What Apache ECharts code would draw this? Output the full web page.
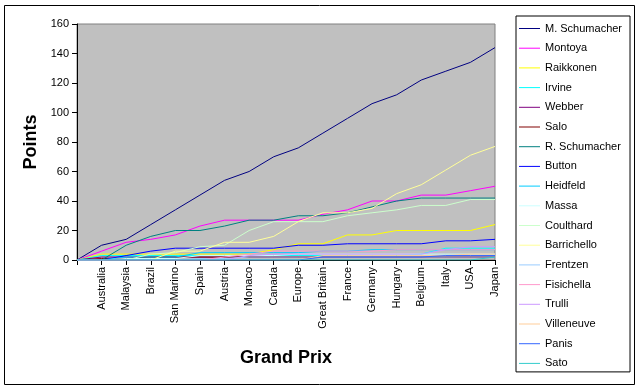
<!DOCTYPE html>
<html>
<head>
<meta charset="utf-8">
<script src="https://cdn.jsdelivr.net/npm/echarts@6/dist/echarts.min.js"></script>
<style>html,body{margin:0;padding:0;background:#fff;}#c{width:640px;height:390px;}</style>
</head>
<body>
<div id="c"></div>
<script>
var categories = ['', 'Australia', 'Malaysia', 'Brazil', 'San Marino', 'Spain', 'Austria', 'Monaco', 'Canada', 'Europe', 'Great Britain', 'France', 'Germany', 'Hungary', 'Belgium', 'Italy', 'USA', 'Japan'];
var yTicks = [0, 20, 40, 60, 80, 100, 120, 140, 160];

var drivers = ['M. Schumacher', 'Montoya', 'Raikkonen', 'Irvine', 'Webber', 'Salo', 'R. Schumacher', 'Button', 'Heidfeld', 'Massa', 'Coulthard', 'Barrichello', 'Frentzen', 'Fisichella', 'Trulli', 'Villeneuve', 'Panis', 'Sato'];

var mSchumacher = [0, 10, 14, 24, 34, 44, 54, 60, 70, 76, 86, 96, 106, 112, 122, 128, 134, 144];
var montoya     = [0, 6, 12, 14, 17, 23, 27, 27, 27, 27, 31, 34, 40, 40, 44, 44, 47, 50];
var raikkonen   = [0, 4, 4, 4, 4, 4, 4, 4, 7, 11, 11, 17, 17, 20, 20, 20, 20, 24];
var irvine      = [0, 3, 3, 3, 3, 3, 3, 3, 3, 3, 3, 3, 3, 3, 4, 8, 8, 8];
var webber      = [0, 2, 2, 2, 2, 2, 2, 2, 2, 2, 2, 2, 2, 2, 2, 2, 2, 2];
var salo        = [0, 1, 1, 2, 2, 2, 2, 2, 2, 2, 2, 2, 2, 2, 2, 2, 2, 2];
var rSchumacher = [0, 0, 10, 16, 20, 20, 23, 27, 27, 30, 30, 32, 36, 40, 42, 42, 42, 42];
var button      = [0, 0, 3, 6, 8, 8, 8, 8, 8, 10, 10, 11, 11, 11, 11, 13, 13, 14];
var heidfeld    = [0, 0, 2, 2, 2, 5, 5, 5, 5, 5, 6, 6, 7, 7, 7, 7, 7, 7];
var massa       = [0, 0, 1, 1, 1, 3, 3, 3, 3, 4, 4, 4, 4, 4, 4, 4, 4, 4];
var coulthard   = [0, 0, 0, 4, 5, 9, 10, 20, 26, 26, 26, 30, 32, 34, 37, 37, 41, 41];
var barrichello = [0, 0, 0, 0, 6, 6, 12, 12, 16, 26, 32, 32, 35, 45, 51, 61, 71, 77];
var frentzen    = [0, 0, 0, 0, 0, 1, 1, 2, 2, 2, 2, 2, 2, 2, 2, 2, 2, 2];
var fisichella  = [0, 0, 0, 0, 0, 0, 2, 4, 6, 6, 6, 6, 6, 7, 7, 7, 7, 7];
var trulli      = [0, 0, 0, 0, 0, 0, 0, 3, 4, 4, 4, 4, 4, 4, 4, 7, 9, 9];
var villeneuve  = [0, 0, 0, 0, 0, 0, 0, 0, 0, 0, 3, 3, 3, 3, 3, 3, 4, 4];
var panis       = [0, 0, 0, 0, 0, 0, 0, 0, 0, 0, 2, 2, 2, 2, 2, 3, 3, 3];
var sato        = [0, 0, 0, 0, 0, 0, 0, 0, 0, 0, 0, 0, 0, 0, 0, 0, 0, 2];

var seriesValues = [mSchumacher, montoya, raikkonen, irvine, webber, salo, rSchumacher, button, heidfeld, massa, coulthard, barrichello, frentzen, fisichella, trulli, villeneuve, panis, sato];
var colors = ['#000080', '#FF00FF', '#FFFF00', '#00FFFF', '#800080', '#800000', '#008080', '#0000FF', '#00CCFF', '#CCFFFF', '#CCFFCC', '#FFFF99', '#99CCFF', '#FF99CC', '#CC99FF', '#FFCC99', '#3366FF', '#33CCCC'];

var FONT = 'Arial, "Liberation Sans", sans-serif';
var chart = echarts.init(document.getElementById('c'), null, {renderer: 'canvas'});

var series = drivers.map(function (name, i) {
  return {
    name: name,
    type: 'line',
    data: seriesValues[i],
    symbol: 'none',
    showSymbol: false,
    smooth: false,
    animation: false,
    lineStyle: {width: 1, color: colors[i]},
    itemStyle: {color: colors[i]}
  };
});

chart.setOption({
  animation: false,
  backgroundColor: '#ffffff',
  color: colors,
  textStyle: {fontFamily: FONT},
  graphic: [{
    type: 'rect',
    shape: {x: 4.5, y: 5.5, width: 630, height: 379},
    style: {fill: 'none', stroke: '#000', lineWidth: 1},
    z: -10
  }],
  grid: {
    left: 77, top: 24, right: 145, bottom: 130,
    show: true, backgroundColor: '#C0C0C0', borderColor: '#808080', borderWidth: 1,
    containLabel: false
  },
  legend: {
    orient: 'vertical',
    left: 516, top: 16,
    padding: [7, 8, 3, 3],
    itemGap: 8.7,
    itemWidth: 21, itemHeight: 1,
    icon: 'rect',
    borderColor: '#000', borderWidth: 1,
    backgroundColor: '#fff',
    textStyle: {fontSize: 11, color: '#000', fontFamily: FONT},
    data: drivers
  },
  xAxis: {
    type: 'category',
    data: categories,
    boundaryGap: false,
    name: 'Grand Prix',
    nameLocation: 'middle',
    nameGap: 89,
    nameTextStyle: {fontSize: 18, fontWeight: 'bold', color: '#000', fontFamily: FONT},
    axisLine: {show: true, lineStyle: {color: '#000', width: 1}},
    axisTick: {show: true, interval: 0, length: 5, lineStyle: {color: '#000'}},
    axisLabel: {interval: 0, rotate: 90, fontSize: 11, color: '#000', margin: 7, fontFamily: FONT},
    splitLine: {show: false}
  },
  yAxis: {
    type: 'value',
    min: yTicks[0],
    max: yTicks[yTicks.length - 1],
    interval: yTicks[1] - yTicks[0],
    name: 'Points',
    nameLocation: 'middle',
    nameGap: 35,
    nameTextStyle: {fontSize: 18, fontWeight: 'bold', color: '#000', fontFamily: FONT},
    axisLine: {show: true, lineStyle: {color: '#000', width: 1}},
    axisTick: {show: true, length: 5, lineStyle: {color: '#000'}},
    axisLabel: {fontSize: 11, color: '#000', margin: 8, fontFamily: FONT},
    splitLine: {show: false}
  },
  series: series
});
</script>
</body>
</html>
